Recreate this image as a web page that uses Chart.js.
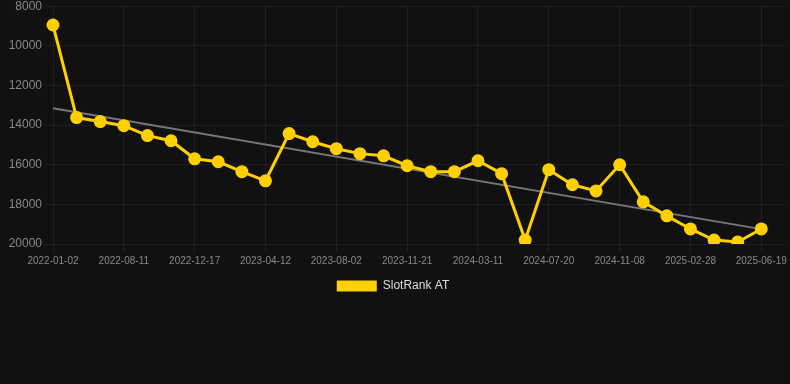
<!DOCTYPE html>
<html>
<head>
<meta charset="utf-8">
<script src="https://cdn.jsdelivr.net/npm/chart.js@4/dist/chart.umd.min.js"></script>
<style>
  html, body { margin: 0; padding: 0; background: #111111; overflow: hidden; }
  #wrap { position: relative; width: 790px; height: 306px; margin-top: -4px; }
</style>
</head>
<body>
<div id="wrap"><canvas id="c"></canvas></div>
<script>
const categories = [
  "2022-01-02","2022-05-28","2022-07-04","2022-08-11","2022-09-23","2022-11-04",
  "2022-12-17","2023-01-24","2023-03-03","2023-04-12","2023-05-19","2023-06-25",
  "2023-08-02","2023-09-08","2023-10-15","2023-11-21","2023-12-28","2024-02-03",
  "2024-03-11","2024-04-24","2024-06-06","2024-07-20","2024-08-26","2024-10-02",
  "2024-11-08","2024-12-15","2025-01-21","2025-02-28","2025-04-07","2025-05-13",
  "2025-06-19"
];
const rankValues = [
  8950, 13620, 13820, 14030, 14530, 14790,
  15700, 15850, 16350, 16810, 14430, 14840,
  15190, 15440, 15550, 16050, 16350, 16350,
  15800, 16450, 19800, 16250, 17010, 17320,
  16000, 17870, 18580, 19240, 19800, 19900,
  19240
];
const trendStart = 13150;
const trendEnd = 19250;
const yTicks = [8000, 10000, 12000, 14000, 16000, 18000, 20000];
const seriesName = "SlotRank AT";

// one empty slot after the last date keeps the plot area running to the right edge
const labels = categories.concat([""]);
const trendValues = labels.map((_, i) => i === 0 ? trendStart : (i === categories.length - 1 ? trendEnd : null));

new Chart(document.getElementById('c'), {
  type: 'line',
  data: {
    labels: labels,
    datasets: [
      {
        label: seriesName,
        data: rankValues,
        borderColor: '#FFD000',
        backgroundColor: '#FFD000',
        borderWidth: 3,
        pointRadius: 5,
        pointHoverRadius: 5,
        pointBackgroundColor: '#FFD000',
        pointBorderColor: '#FFD000',
        tension: 0,
        order: 1
      },
      {
        label: 'trend',
        data: trendValues,
        borderColor: '#777777',
        borderWidth: 2,
        pointRadius: 0,
        spanGaps: true,
        fill: false,
        order: 2
      }
    ]
  },
  options: {
    responsive: true,
    maintainAspectRatio: false,
    animation: false,
    layout: { autoPadding: false, padding: { left: 0, right: 4, top: 0, bottom: 0 } },
    plugins: {
      legend: {
        position: 'bottom',
        labels: {
          color: '#dddddd',
          font: { family: 'Liberation Sans, Arial, sans-serif', size: 12 },
          boxWidth: 40,
          boxHeight: 11,
          filter: (item) => item.text !== 'trend',
          generateLabels: (chart) => Chart.defaults.plugins.legend.labels.generateLabels(chart)
            .map(l => Object.assign(l, { lineWidth: 0 }))
        }
      },
      tooltip: { enabled: false }
    },
    scales: {
      x: {
        ticks: {
          color: '#888888',
          font: { family: 'Liberation Sans, Arial, sans-serif', size: 10 },
          maxRotation: 0,
          autoSkip: false,
          callback: function(v, i) { return (i % 3 === 0 && i < categories.length) ? this.getLabelForValue(v) : null; }
        },
        grid: { color: 'rgba(255,255,255,0.06)' },
        border: { display: false }
      },
      y: {
        reverse: true,
        min: yTicks[0],
        max: yTicks[yTicks.length - 1],
        afterBuildTicks: (axis) => { axis.ticks = yTicks.map(v => ({ value: v })); },
        afterFit: (axis) => { axis.width = 53; },
        ticks: {
          color: '#888888',
          font: { family: 'Liberation Sans, Arial, sans-serif', size: 12 },
          callback: (v) => String(v)
        },
        grid: { color: 'rgba(255,255,255,0.06)' },
        border: { display: false }
      }
    }
  }
});
</script>
</body>
</html>
